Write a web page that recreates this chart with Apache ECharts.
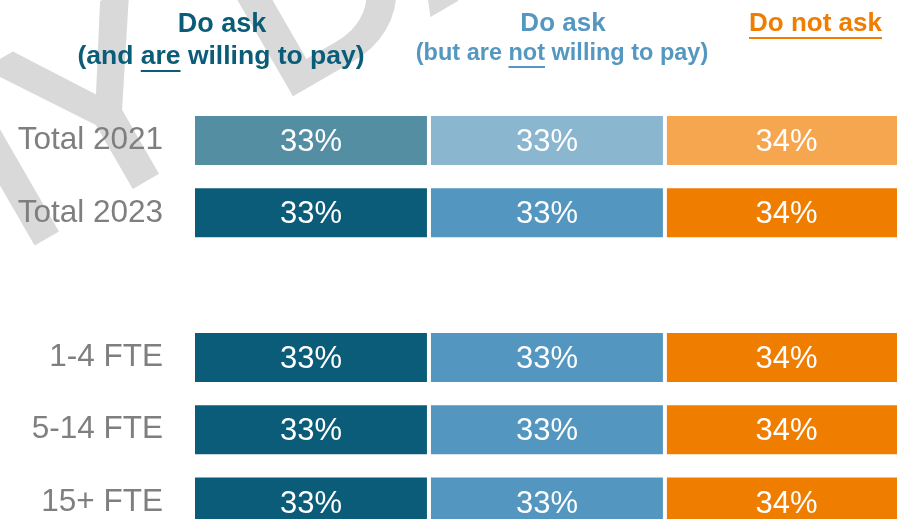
<!DOCTYPE html>
<html>
<head>
<meta charset="utf-8">
<script src="https://cdn.jsdelivr.net/npm/echarts@6/dist/echarts.min.js"></script>
<style>
  html, body { margin: 0; padding: 0; background: #ffffff; }
  #chart { width: 897px; height: 519px; }
</style>
</head>
<body>
<div id="chart"></div>
<script>
// Rows (top to bottom); the empty entry is the spacer row between totals and size bands
const categories = ['Total 2021', 'Total 2023', '', '1-4 FTE', '5-14 FTE', '15+ FTE'];

// Shares in percent per answer group
const askWilling    = [33, 33, null, 33, 33, 33];
const askNotWilling = [33, 33, null, 33, 33, 33];
const notAsk        = [34, 34, null, 34, 34, 34];

// Column headings (middle part of the second line is underlined)
const headWilling    = ['Do ask', '(and ', 'are', ' willing to pay)'];
const headNotWilling = ['Do ask', '(but are ', 'not', ' willing to pay)'];
const headNotAsk     = 'Do not ask';
const watermarkText  = 'DUMMY DATA';

const FONT = '"Liberation Sans", Arial, Helvetica, sans-serif';

// Darker shade for current rows, lighter for the 2021 row
const palette = {
  willing:    { old: '#548ea3', cur: '#0b5c78' },
  notWilling: { old: '#8ab6d0', cur: '#5396c0' },
  notAsk:     { old: '#f5a64f', cur: '#ef7d00' }
};

function shade(p) {
  return function (params) { return params.dataIndex === 0 ? p.old : p.cur; };
}

function makeSeries(name, data, p) {
  return {
    name: name,
    type: 'bar',
    stack: 'all',
    data: data,
    barWidth: 53,
    itemStyle: { color: shade(p), borderColor: '#ffffff', borderWidth: 2 },
    label: {
      show: true,
      position: 'inside',
      offset: [0, 2],
      formatter: function (v) { return v.value == null ? '' : v.value + '%'; },
      color: '#ffffff',
      fontSize: 31,
      fontFamily: FONT
    },
    emphasis: { disabled: true },
    animation: false
  };
}

// text measurement for underline placement
const measureCtx = document.createElement('canvas').getContext('2d');
function textWidth(str, size, weight) {
  measureCtx.font = (weight || 'normal') + ' ' + size + 'px ' + FONT;
  return measureCtx.measureText(str).width;
}

// Heading line with an underlined middle word, centred on cx
function underlinedLine(parts, cx, cy, size, color, lineY) {
  const full = parts.join('');
  const w = textWidth(full, size, 'bold');
  const left = cx - w / 2;
  const uStart = left + textWidth(parts[0], size, 'bold');
  const uEnd = uStart + textWidth(parts[1], size, 'bold');
  return [
    {
      type: 'text', z: 100, x: cx, y: cy,
      style: { text: full, fill: color, font: 'bold ' + size + 'px ' + FONT, align: 'center', verticalAlign: 'middle' }
    },
    {
      type: 'line', z: 100,
      shape: { x1: uStart, y1: lineY, x2: uEnd, y2: lineY },
      style: { stroke: color, lineWidth: 2 }
    }
  ];
}

const graphics = [];

// faint diagonal watermark behind everything
graphics.push({
  type: 'text', z: -10, x: -636, y: 549, rotation: Math.PI / 6,
  style: {
    text: watermarkText, fill: '#d9d9d9', stroke: '#d9d9d9', lineWidth: 7,
    font: '250px ' + FONT, align: 'left', verticalAlign: 'middle'
  }
});

const c1 = '#0b5c78', c2 = '#5497c0', c3 = '#ef7d00';
graphics.push({
  type: 'text', z: 100, x: 222, y: 25,
  style: { text: headWilling[0], fill: c1, font: 'bold 27px ' + FONT, align: 'center', verticalAlign: 'middle' }
});
underlinedLine(headWilling.slice(1), 221, 57, 26.5, c1, 71)
  .forEach(function (g) { graphics.push(g); });

graphics.push({
  type: 'text', z: 100, x: 563, y: 24,
  style: { text: headNotWilling[0], fill: c2, font: 'bold 26px ' + FONT, align: 'center', verticalAlign: 'middle' }
});
underlinedLine(headNotWilling.slice(1), 562, 54, 23.5, c2, 67)
  .forEach(function (g) { graphics.push(g); });

(function () {
  const size = 26;
  const w = textWidth(headNotAsk, size, 'bold');
  const cx = 815.5;
  graphics.push({
    type: 'text', z: 100, x: cx, y: 24,
    style: { text: headNotAsk, fill: c3, font: 'bold ' + size + 'px ' + FONT, align: 'center', verticalAlign: 'middle' }
  });
  graphics.push({
    type: 'line', z: 100,
    shape: { x1: cx - w / 2, y1: 38, x2: cx + w / 2, y2: 38 },
    style: { stroke: c3, lineWidth: 2 }
  });
})();

const chart = echarts.init(document.getElementById('chart'), null, { renderer: 'canvas' });
chart.setOption({
  animation: false,
  backgroundColor: '#ffffff',
  grid: { left: 193, top: 104.4, width: 715, height: 433.8, containLabel: false, outerBoundsMode: 'none' },
  xAxis: {
    type: 'value', min: 0, max: 100,
    show: false
  },
  yAxis: {
    type: 'category',
    data: categories,
    inverse: true,
    axisLine: { show: false },
    axisTick: { show: false },
    splitLine: { show: false },
    axisLabel: { color: '#7f7f7f', fontSize: 31.5, fontFamily: FONT, margin: 30 }
  },
  graphic: { elements: graphics },
  series: [
    makeSeries('Do ask (and are willing to pay)', askWilling, palette.willing),
    makeSeries('Do ask (but are not willing to pay)', askNotWilling, palette.notWilling),
    makeSeries('Do not ask', notAsk, palette.notAsk)
  ]
});
</script>
</body>
</html>
